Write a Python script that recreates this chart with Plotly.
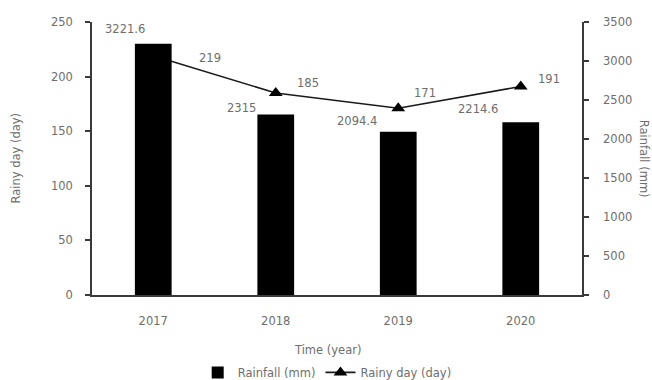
import plotly.graph_objects as go

# Annual rainfall and rainy days
years = ["2017", "2018", "2019", "2020"]
rainfall_mm = [3221.6, 2315, 2094.4, 2214.6]
rainy_days = [219, 185, 171, 191]

# label offsets in px (x, y) relative to each mark
bar_label_shift = [(-28, 15), (-34, 6), (-41, 11), (-43, 13)]
line_label_shift = [(57, -2), (32, 10), (27, 15), (28, 7)]

FONT = "DejaVu Sans"
FS = 11.5
TXT = "#6e6e6e"
AX = "#3a3a3a"

fig = go.Figure()

# rainy days line on the left axis (drawn first so bars sit on top of it)
fig.add_trace(go.Scatter(
    x=years, y=rainy_days, name="Rainy day (day)",
    mode="lines+markers",
    line=dict(color="#1a1a1a", width=1.6),
    marker=dict(symbol="triangle-up", size=12, color="black"),
    yaxis="y",
))

# rainfall bars on the right axis
fig.add_trace(go.Bar(
    x=years, y=rainfall_mm, name="Rainfall (mm)",
    marker=dict(color="black", line=dict(width=0)),
    width=0.3,
    yaxis="y2",
))

annotations = []
for i, (v, (dx, dy)) in enumerate(zip(rainfall_mm, bar_label_shift)):
    annotations.append(dict(x=i, y=v, xref="x", yref="y2", text=f"{v:g}",
                            showarrow=False, xshift=dx, yshift=dy,
                            xanchor="center", yanchor="middle",
                            font=dict(family=FONT, size=FS, color=TXT)))
for i, (v, (dx, dy)) in enumerate(zip(rainy_days, line_label_shift)):
    annotations.append(dict(x=i, y=v, xref="x", yref="y", text=f"{v:g}",
                            showarrow=False, xshift=dx, yshift=dy,
                            xanchor="center", yanchor="middle",
                            font=dict(family=FONT, size=FS, color=TXT)))

# axis titles
annotations += [
    dict(text="Time (year)", x=0.48, y=0, xref="paper", yref="paper",
         yshift=-55, xanchor="center", yanchor="middle", showarrow=False,
         font=dict(family=FONT, size=FS, color=TXT)),
    dict(text="Rainy day (day)", x=-0.157, y=0.5, xref="paper", yref="paper",
         xanchor="center", yanchor="middle",
         textangle=-90, showarrow=False, font=dict(family=FONT, size=FS, color=TXT)),
    dict(text="Rainfall (mm)", x=1.128, y=0.5, xref="paper", yref="paper",
         xanchor="center", yanchor="middle",
         textangle=90, showarrow=False, font=dict(family=FONT, size=FS, color=TXT)),
]

fig.update_layout(
    width=652, height=380,
    margin=dict(l=92, r=70, t=22, b=85, autoexpand=False),
    paper_bgcolor="white", plot_bgcolor="white",
    font=dict(family=FONT, size=FS, color=TXT),
    showlegend=True,
    legend=dict(orientation="h", x=0.48, xanchor="center",
                yref="container", y=0.02, yanchor="middle",
                traceorder="reversed", font=dict(family=FONT, size=FS, color=TXT),
                itemwidth=30),
    xaxis=dict(type="category", range=[-0.5, 3.5], showline=True, linecolor=AX,
               linewidth=1.5, ticks="", showgrid=False, ticklabelstandoff=14,
               tickfont=dict(family=FONT, size=FS, color=TXT)),
    yaxis=dict(range=[0, 250], dtick=50, showline=True, linecolor=AX, linewidth=1.5,
               ticks="outside", ticklen=5, tickwidth=1.5, tickcolor=AX,
               showgrid=False, zeroline=False, ticklabelstandoff=10,
               tickfont=dict(family=FONT, size=FS, color=TXT)),
    yaxis2=dict(range=[0, 3500], dtick=500, overlaying="y", side="right",
                showline=True, linecolor=AX, linewidth=1.5,
                ticks="outside", ticklen=5, tickwidth=1.5, tickcolor=AX,
                showgrid=False, zeroline=False, ticklabelstandoff=12,
                tickfont=dict(family=FONT, size=FS, color=TXT)),
    annotations=annotations,
)

fig.write_html("out.html")
